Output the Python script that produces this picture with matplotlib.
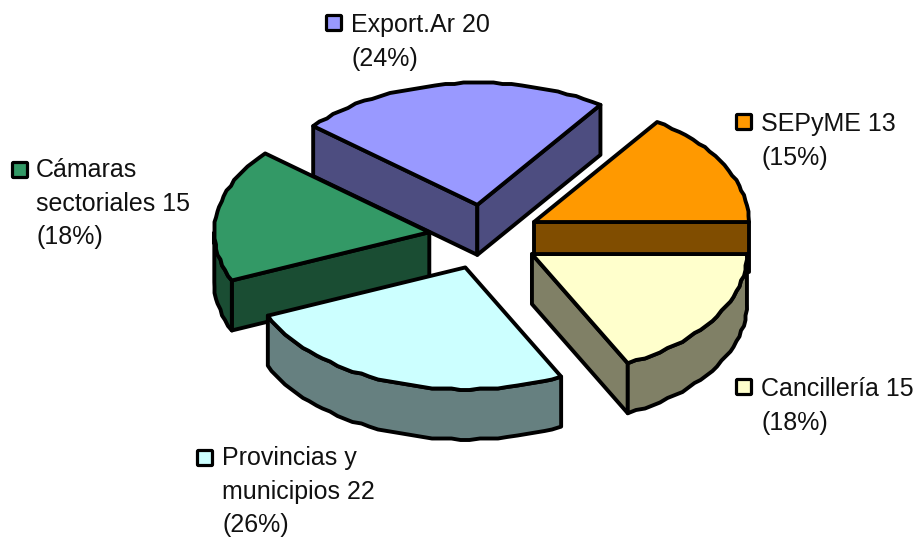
import numpy as np
import matplotlib
matplotlib.use('Agg')
import matplotlib.pyplot as plt
from matplotlib.patches import Polygon, FancyBboxPatch

# clockwise, the first slice ends at 3 o'clock
names = ['SEPyME', 'Cancillería', 'Provincias y\nmunicipios', 'Cámaras\nsectoriales', 'Export.Ar']
values = [13, 15, 22, 15, 20]
top_colors = ['#FF9900', '#FFFFCC', '#CCFFFF', '#339966', '#9999FF']
side_colors = ['#804D00', '#808066', '#668080', '#1A4D33', '#4D4D80']

# layout in pixels
cx, cy = 484.5, 237
rx, ry = 215, 122
depth = 50
explode_x, explode_y = 55.8, 32.4
lw = 2.8

label_x = [761, 761, 222, 36, 351]
label_y = [131, 396, 465, 177, 32]
box_xy = [(744, 122), (744, 387), (205, 458), (20, 170), (334, 23)]
line_gap = 33.7

draw_order = [4, 0, 3, 2, 1]

fig = plt.figure(figsize=(9.22, 5.38), dpi=100)
ax = fig.add_axes([0, 0, 1, 1])
ax.set_xlim(0, 922)
ax.set_ylim(538, 0)
ax.axis('off')


def rim(x0, y0, t):
    # rough rounding gives the stepped outline of the original
    x = x0 + rx * np.cos(t)
    y = y0 - ry * np.sin(t)
    return np.round(x / 1.5) * 1.5, np.round(y / 1.5) * 1.5


def arc_points(x0, y0, t1, t2):
    n = max(2, int(abs(t2 - t1) / np.radians(2.5)) + 1)
    ts = np.linspace(t1, t2, n)
    x, y = rim(x0, y0, ts)
    x[0], y[0] = x0 + rx * np.cos(t1), y0 - ry * np.sin(t1)
    x[-1], y[-1] = x0 + rx * np.cos(t2), y0 - ry * np.sin(t2)
    return np.column_stack([x, y])


def face(pts, color, z):
    ax.add_patch(Polygon(pts, closed=True, facecolor=color, edgecolor='black',
                         linewidth=lw, joinstyle='round', zorder=z))


total = sum(values)
sweeps = np.radians(np.array(values) / total * 360)
ends = sweeps[0] - np.cumsum(sweeps)
starts = ends + sweeps

z = 1
for i in draw_order:
    t1, t2 = starts[i], ends[i]
    mid = (t1 + t2) / 2
    x0 = cx + explode_x * np.cos(mid)
    y0 = cy - explode_y * np.sin(mid)
    down = np.array([0, depth])

    # radial walls, only where they face the viewer
    for t, normal in ((t1, t1 + np.pi / 2), (t2, t2 - np.pi / 2)):
        if np.sin(normal) < 0:
            a = np.array([x0, y0])
            b = np.array([x0 + rx * np.cos(t), y0 - ry * np.sin(t)])
            face([a, b, b + down, a + down], side_colors[i], z)
            z += 1

    # outer wall, front half of the ellipse only
    hi = min(t1, 0)
    lo = max(t2, -np.pi)
    if hi > lo:
        pts = arc_points(x0, y0, hi, lo)
        face(np.vstack([pts, pts[::-1] + down]), side_colors[i], z)
        z += 1

    # top
    top = np.vstack([[x0, y0], arc_points(x0, y0, t1, t2)])
    face(top, top_colors[i], z)
    z += 1

# labels with their colour keys
for i, name in enumerate(names):
    pct = round(values[i] / total * 100)
    lines = f'{name} {values[i]}\n({pct}%)'.split('\n')
    for j, line in enumerate(lines):
        ax.text(label_x[i], label_y[i] + j * line_gap, line, fontsize=18,
                family='Liberation Sans', color='#111111', ha='left', va='baseline', zorder=50)
    bx, by = box_xy[i]
    ax.add_patch(FancyBboxPatch((bx - 7.5, by - 7.5), 15, 15, boxstyle='round,pad=0,rounding_size=1',
                                facecolor=top_colors[i], edgecolor='black', linewidth=2.3, zorder=50))

fig.savefig('out.png', dpi=100)
